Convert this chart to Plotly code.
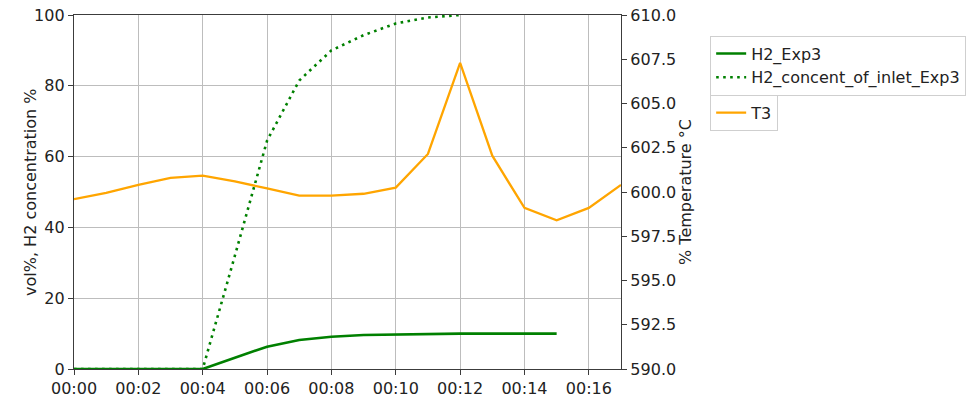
import plotly.graph_objects as go

# elapsed time in minutes
minutes = list(range(18))
tick_minutes = [0, 2, 4, 6, 8, 10, 12, 14, 16]
tick_labels = ["00:00", "00:02", "00:04", "00:06", "00:08",
               "00:10", "00:12", "00:14", "00:16"]

# measured H2 concentration (vol%)
h2_minutes = list(range(16))
h2_exp3 = [0, 0, 0, 0, 0, 3.2, 6.3, 8.2, 9.1, 9.6, 9.8, 9.9, 10.0, 10.0, 10.0, 10.0]

# H2 concentration of the inlet gas (vol%)
inlet_minutes = list(range(13))
h2_inlet_exp3 = [0, 0, 0, 0, 0, 32.0, 64.5, 81.5, 90.0, 94.3, 97.6, 99.3, 100.0]

# temperature T3 (°C)
t3 = [599.6, 599.95, 600.4, 600.8, 600.92, 600.6, 600.2, 599.8, 599.8,
      599.9, 600.25, 602.15, 607.3, 602.05, 599.1, 598.4, 599.1, 600.4]

FONT = "DejaVu Sans"
FS = 16
SPINE = "#3c3c3c"
GRID = "#bdbdbd"

fig = go.Figure()

fig.add_trace(go.Scatter(
    x=h2_minutes, y=h2_exp3, name="H2_Exp3", mode="lines",
    line=dict(color="#008000", width=2.6), legend="legend",
))
fig.add_trace(go.Scatter(
    x=inlet_minutes, y=h2_inlet_exp3, name="H2_concent_of_inlet_Exp3", mode="lines",
    line=dict(color="#008000", width=2.6, dash="2.6px,4.4px"), legend="legend",
))
fig.add_trace(go.Scatter(
    x=minutes, y=t3, name="T3", mode="lines", yaxis="y2",
    line=dict(color="#FFA500", width=2.3), legend="legend2",
))

legend_style = dict(
    font=dict(family=FONT, size=FS, color="#222"),
    bordercolor="#cfcfcf", borderwidth=1, bgcolor="rgba(255,255,255,0.8)",
    xanchor="left", yanchor="top", tracegroupgap=0, itemwidth=30,
)

fig.update_layout(
    width=979, height=398,
    margin=dict(l=74, r=358, t=15, b=29, autoexpand=False),
    paper_bgcolor="white", plot_bgcolor="white",
    font=dict(family=FONT, size=FS, color="#222"),
    xaxis=dict(
        range=[0, 17], tickvals=tick_minutes, ticktext=tick_labels,
        showgrid=True, gridcolor=GRID, gridwidth=1,
        ticks="outside", ticklen=5, tickcolor=SPINE,
        showline=True, linecolor=SPINE, linewidth=1.3, mirror=True,
        zeroline=False, tickfont=dict(size=FS), automargin=False,
    ),
    yaxis=dict(
        range=[0, 100], tickvals=[0, 20, 40, 60, 80, 100],
        showgrid=True, gridcolor=GRID, gridwidth=1,
        ticks="outside", ticklen=5, tickcolor=SPINE,
        showline=True, linecolor=SPINE, linewidth=1.3,
        zeroline=False, tickfont=dict(size=FS), automargin=False,
    ),
    yaxis2=dict(
        overlaying="y", side="right", range=[590, 610],
        tickvals=[590, 592.5, 595, 597.5, 600, 602.5, 605, 607.5, 610],
        tickformat=".1f", showgrid=False,
        ticks="outside", ticklen=5, tickcolor=SPINE,
        showline=True, linecolor=SPINE, linewidth=1.3,
        zeroline=False, tickfont=dict(size=FS), automargin=False,
        title=dict(text="% Temperature °C", font=dict(size=FS), standoff=0),
    ),
    legend=dict(x=1.163, y=0.942, **legend_style),
    legend2=dict(x=1.163, y=0.775, **legend_style),
    showlegend=True,
    annotations=[dict(
        text="vol%, H2 concentration %", textangle=-90,
        xref="paper", yref="paper", x=-0.0805, y=0.5,
        xanchor="center", yanchor="middle", showarrow=False,
        font=dict(family=FONT, size=FS, color="#222"),
    )],
)

fig.write_html("out.html")
